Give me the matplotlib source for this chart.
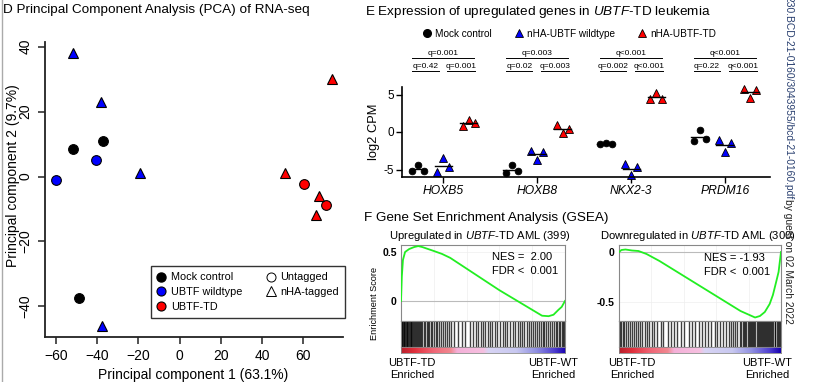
import numpy as np
import matplotlib.pyplot as plt
from matplotlib.lines import Line2D
from matplotlib.colors import LinearSegmentedColormap

plt.rcParams['font.family'] = ['Liberation Sans', 'DejaVu Sans']
plt.rcParams['mathtext.fontset'] = 'custom'
plt.rcParams['mathtext.rm'] = 'Liberation Sans'
plt.rcParams['mathtext.it'] = 'Liberation Sans:italic'

# ---- D: PCA of RNA-seq
mock_pc1 = [-52, -37, -49]
mock_pc2 = [8.5, 11, -37.3]
wt_untag_pc1 = [-40.5, -60]
wt_untag_pc2 = [5, -1.2]
wt_tag_pc1 = [-52, -38, -19, -37.6]
wt_tag_pc2 = [38, 23, 1, -46]
td_untag_pc1 = [60.5, 71.2]
td_untag_pc2 = [-2.3, -8.9]
td_tag_pc1 = [51, 74, 67.8, 66.3]
td_tag_pc2 = [1, 30, -6.1, -11.9]

# ---- E: expression (log2 CPM), three replicates per group
genes = ['HOXB5', 'HOXB8', 'NKX2-3', 'PRDM16']
mock_cpm = [[-5.25, -4.35, -5.25], [-5.5, -4.35, -5.25], [-1.6, -1.5, -1.55], [-1.25, 0.25, -0.95]]
wt_cpm = [[-5.3, -3.5, -4.7], [-2.5, -3.75, -2.6], [-4.3, -5.7, -4.6], [-1.0, -2.7, -1.4]]
td_cpm = [[0.85, 1.6, 1.15], [0.9, -0.1, 0.45], [4.35, 5.15, 4.35], [5.7, 4.6, 5.6]]
q_mock_td = ['q=0.001', 'q=0.003', 'q<0.001', 'q<0.001']
q_mock_wt = ['q=0.42', 'q=0.02', 'q=0.002', 'q=0.22']
q_wt_td = ['q=0.001', 'q=0.003', 'q<0.001', 'q<0.001']

# ---- F: GSEA running enrichment scores (fraction of ranked list, ES)
up_rank = [0, 0.005, 0.012, 0.025, 0.05, 0.08, 0.105, 0.13, 0.2, 0.25, 0.3, 0.4, 0.5,
           0.6, 0.7, 0.8, 0.86, 0.9, 0.93, 0.96, 0.98, 1.0]
up_es = [0, 0.25, 0.42, 0.50, 0.53, 0.55, 0.56, 0.55, 0.51, 0.48, 0.44, 0.33, 0.22,
         0.11, 0.01, -0.09, -0.15, -0.155, -0.14, -0.09, -0.06, 0.0]
up_hits = [0.000, 0.004, 0.008, 0.012, 0.016, 0.021, 0.025, 0.03, 0.034, 0.039, 0.044, 0.049,
           0.053, 0.058, 0.063, 0.068, 0.073, 0.078, 0.084, 0.089, 0.095, 0.101, 0.107, 0.113,
           0.122, 0.131, 0.138, 0.147, 0.156, 0.163, 0.172, 0.181, 0.19, 0.2, 0.211, 0.222,
           0.231, 0.243, 0.255, 0.266, 0.279, 0.292, 0.305, 0.322, 0.347, 0.372, 0.391, 0.418,
           0.436, 0.458, 0.471, 0.486, 0.497, 0.512, 0.528, 0.541, 0.556, 0.571, 0.584, 0.601,
           0.619, 0.633, 0.648, 0.664, 0.681, 0.697, 0.712, 0.726, 0.739, 0.752, 0.766, 0.779,
           0.791, 0.804, 0.815, 0.828, 0.84, 0.851, 0.863, 0.874, 0.886, 0.897, 0.909, 0.92,
           0.931, 0.943, 0.954, 0.962, 0.971, 0.979, 0.987, 0.995]
dn_rank = [0, 0.015, 0.04, 0.08, 0.12, 0.17, 0.25, 0.35, 0.45, 0.55, 0.65, 0.75, 0.84,
           0.87, 0.9, 0.93, 0.95, 0.97, 0.985, 1.0]
dn_es = [0, 0.02, 0.025, 0.015, 0.01, -0.02, -0.09, -0.19, -0.29, -0.39, -0.49, -0.59, -0.655,
         -0.64, -0.6, -0.52, -0.43, -0.3, -0.2, 0.0]
dn_hits = [0.005, 0.015, 0.024, 0.033, 0.045, 0.057, 0.066, 0.078, 0.09, 0.104, 0.118, 0.129,
           0.143, 0.158, 0.171, 0.186, 0.201, 0.219, 0.236, 0.258, 0.272, 0.3, 0.318, 0.342,
           0.361, 0.385, 0.402, 0.43, 0.448, 0.47, 0.493, 0.51, 0.532, 0.551, 0.568, 0.59,
           0.607, 0.625, 0.641, 0.66, 0.676, 0.69, 0.705, 0.718, 0.731, 0.744, 0.756, 0.764,
           0.772, 0.779, 0.787, 0.794, 0.801, 0.808, 0.815, 0.822, 0.829, 0.836, 0.842, 0.849,
           0.856, 0.862, 0.869, 0.875, 0.882, 0.888, 0.895, 0.901, 0.908, 0.914, 0.921, 0.927,
           0.934, 0.94, 0.947, 0.953, 0.96, 0.966, 0.973, 0.979, 0.986, 0.992, 0.998]
bar_pos = [0, 0.08, 0.2, 0.3, 0.34, 0.5, 0.53, 0.7, 0.82, 0.93, 1.0]
bar_colors = ['#b8202c', '#e0303c', '#f06878', '#f08890', '#f4b0d8', '#f6c0e0',
              '#d8d4f4', '#c8c8f0', '#9090e0', '#5040d0', '#1800b0']

BLUE = '#0000ff'
RED = '#ff0000'

W, H = 822, 382
fig = plt.figure(figsize=(W / 100, H / 100), dpi=100)


def px_box(l, t, r, b):
    return [l / W, 1 - b / H, (r - l) / W, (b - t) / H]


def ftext(x, y, s, **kw):
    return fig.text(x / W, 1 - y / H, s, **kw)


# page edge
fig.add_artist(Line2D([1.5 / W, 1.5 / W], [0, 1], color='#aaaaaa', lw=1))

# ================= D =================
ftext(3, 10, 'D Principal Component Analysis (PCA) of RNA-seq', fontsize=9.7, va='center')
ax = fig.add_axes(px_box(45, 42, 343, 337))
kw = dict(ls='none', mec='black', mew=0.8)
ax.plot(mock_pc1, mock_pc2, 'o', ms=7, mfc='black', **kw)
ax.plot(wt_untag_pc1, wt_untag_pc2, 'o', ms=7, mfc=BLUE, **kw)
ax.plot(wt_tag_pc1, wt_tag_pc2, '^', ms=7.5, mfc=BLUE, **kw)
ax.plot(td_untag_pc1, td_untag_pc2, 'o', ms=7, mfc=RED, **kw)
ax.plot(td_tag_pc1, td_tag_pc2, '^', ms=7.5, mfc=RED, **kw)
ax.set_xlim(-65.4, 79.4)
ax.set_ylim(-49.4, 41.4)
ax.spines[['top', 'right']].set_visible(False)
for s in ['left', 'bottom']:
    ax.spines[s].set_linewidth(1.3)
    ax.spines[s].set_color('#222222')
ax.set_xticks([-60, -40, -20, 0, 20, 40, 60])
ax.set_yticks([-40, -20, 0, 20, 40])
ax.set_yticklabels(['\u221240', '\u221220', '0', '20', '40'], rotation=90, va='center')
ax.tick_params(length=5, width=1.1, labelsize=10, pad=4, color='#222222')
ax.set_xlabel('Principal component 1 (63.1%)', fontsize=10)
ax.set_ylabel('Principal component 2 (9.7%)', fontsize=10)
ax.xaxis.set_label_coords(0.498, -0.105)
ax.yaxis.set_label_coords(-0.085, 0.546)
handles = [
    Line2D([], [], marker='o', ls='none', ms=6.5, mfc='black', mec='black', label='Mock control'),
    Line2D([], [], marker='o', ls='none', ms=6.5, mfc=BLUE, mec='black', mew=0.8, label='UBTF wildtype'),
    Line2D([], [], marker='o', ls='none', ms=6.5, mfc=RED, mec='black', mew=0.8, label='UBTF-TD'),
    Line2D([], [], marker='o', ls='none', ms=6.5, mfc='white', mec='black', mew=0.7, label='Untagged'),
    Line2D([], [], marker='^', ls='none', ms=6.5, mfc='white', mec='black', mew=0.7, label='nHA-tagged'),
    Line2D([], [], ls='none', label=' '),
]
leg = ax.legend(handles=handles, ncol=2, loc='lower right', bbox_to_anchor=(1.007, 0.064),
                frameon=True, fancybox=False, edgecolor='black', fontsize=7.8,
                handlelength=0.8, handletextpad=0.5, columnspacing=2.2,
                labelspacing=0.45, borderpad=0.55, borderaxespad=0)
leg.get_frame().set_linewidth(1.0)

# ================= E =================
ftext(365, 12, 'E Expression of upregulated genes in $\\mathit{UBTF}$-TD leukemia',
      fontsize=9.7, va='center')
ax2 = fig.add_axes(px_box(402, 87, 770, 177))
xpos = np.arange(len(genes))
jit = [-0.064, 0, 0.064]
groups = [(mock_cpm, -0.27, 'o', 4.8, 'black'),
          (wt_cpm, 0.0, '^', 5.3, BLUE),
          (td_cpm, 0.27, '^', 5.3, RED)]
for vals, dx, mk, ms, col in groups:
    for i in xpos:
        xs = [i + dx + j for j in jit]
        ax2.plot(xs, vals[i], mk, ms=ms, mfc=col, mec='black', mew=0.6, ls='none', clip_on=False)
        m = np.mean(vals[i])
        ax2.plot([i + dx - 0.09, i + dx + 0.09], [m, m], color='black', lw=1.0)
ax2.set_xlim(-0.44, 3.48)
ax2.set_ylim(-6, 6)
ax2.spines[['top', 'right']].set_visible(False)
for s in ['left', 'bottom']:
    ax2.spines[s].set_linewidth(1.2)
ax2.set_yticks([-5, 0, 5])
ax2.set_yticklabels(['-5', '0', '5'])
ax2.set_xticks(xpos)
ax2.set_xticklabels(genes, fontstyle='italic', fontsize=8.7)
ax2.tick_params(axis='y', length=4, width=1, labelsize=8.5, pad=2)
ax2.tick_params(axis='x', length=4, width=1, pad=2)
ax2.set_ylabel('log2 CPM', fontsize=9.3, labelpad=2)
for i in xpos:
    for x0, x1, yv, lab in [(-0.33, 0.33, 9.87, q_mock_td[i]),
                            (-0.33, -0.05, 8.13, q_mock_wt[i]),
                            (0.04, 0.34, 8.13, q_wt_td[i])]:
        ax2.plot([i + x0, i + x1], [yv, yv], color='black', lw=0.7, clip_on=False)
        ax2.text(i + (x0 + x1) / 2, yv + 0.12, lab, fontsize=6, ha='center', va='bottom')
eh = [Line2D([], [], marker='o', ls='none', ms=5.5, mfc='black', mec='black', label='Mock control'),
      Line2D([], [], marker='^', ls='none', ms=5.5, mfc=BLUE, mec='black', mew=0.6, label='nHA-UBTF wildtype'),
      Line2D([], [], marker='^', ls='none', ms=5.5, mfc=RED, mec='black', mew=0.6, label='nHA-UBTF-TD')]
ax2.legend(handles=eh, ncol=3, loc='center', bbox_to_anchor=(0.455, 1.589), frameon=False,
           fontsize=7.2, handlelength=0.8, handletextpad=0.4, columnspacing=2.3, borderaxespad=0)

# ================= F =================
ftext(364, 218, 'F Gene Set Enrichment Analysis (GSEA)', fontsize=9.7, va='center')
cmap = LinearSegmentedColormap.from_list('rank', list(zip(bar_pos, bar_colors)))
gradient = np.linspace(0, 1, 256).reshape(1, -1)


def gsea_panel(l, r, rank, es, hits, ylim, yticks, yticklabels):
    a = fig.add_axes(px_box(l, 245, r, 321))
    a.plot(rank, es, color='#22ee22', lw=1.3, zorder=3)
    a.axhline(0, color='#bbbbbb', lw=0.8)
    a.grid(True, color='#eeeeee', lw=0.5)
    a.set_xlim(0, 1)
    a.set_ylim(*ylim)
    a.set_xticks([0.2, 0.4, 0.6, 0.8])
    a.set_xticklabels([])
    a.set_yticks(yticks)
    a.set_yticklabels(yticklabels, fontweight='bold')
    a.tick_params(axis='y', length=0, labelsize=7.5, pad=3)
    a.tick_params(axis='x', length=0)
    for s in a.spines.values():
        s.set_color('#888888')
        s.set_linewidth(0.8)
    b = fig.add_axes(px_box(l, 321, r, 347))
    b.vlines(hits, 0, 1, color='black', lw=1.0, alpha=0.75)
    b.set_xlim(0, 1)
    b.set_ylim(0, 1)
    b.set_xticks([])
    b.set_yticks([])
    for s in b.spines.values():
        s.set_color('#888888')
        s.set_linewidth(0.8)
    c = fig.add_axes(px_box(l, 347, r, 353))
    c.imshow(gradient, cmap=cmap, aspect='auto', extent=[0, 1, 0, 1])
    c.set_xticks([])
    c.set_yticks([])
    for s in c.spines.values():
        s.set_color('#888888')
        s.set_linewidth(0.6)
    return a


gsea_panel(401, 565, up_rank, up_es, up_hits, (-0.204, 0.571), [0, 0.5], ['0', '0.5'])
gsea_panel(619, 781, dn_rank, dn_es, dn_hits, (-0.69, 0.07), [-0.5, 0], ['-0.5', '0'])

ftext(480, 236, 'Upregulated in $\\mathit{UBTF}$-TD AML (399)', fontsize=8.1, ha='center', va='center')
ftext(698, 236, 'Downregulated in $\\mathit{UBTF}$-TD AML (300)', fontsize=8.1, ha='center', va='center')
ftext(374, 303, 'Enrichment Score', fontsize=6.6, rotation=90, ha='center', va='center')
ftext(492, 257, 'NES =  2.00', fontsize=8, va='center')
ftext(492, 271, 'FDR <  0.001', fontsize=8, va='center')
ftext(704, 258, 'NES = -1.93', fontsize=8, va='center')
ftext(704, 272, 'FDR <  0.001', fontsize=8, va='center')
for cx, lab in [(412, 'UBTF-TD'), (553, 'UBTF-WT'), (632, 'UBTF-TD'), (767, 'UBTF-WT')]:
    ftext(cx, 363, lab, fontsize=8, ha='center', va='center')
    ftext(cx, 375, 'Enriched', fontsize=8, ha='center', va='center')

# download watermark along the right edge
ftext(788, -4, '230.BCD-21-0160/3043955/bcd-21-0160.pdf', fontsize=7.4, rotation=-90,
      ha='center', va='top', color='#2a4070')
ftext(788, 199, 'by guest on 02 March 2022', fontsize=7.4, rotation=-90,
      ha='center', va='top', color='#222222')

fig.savefig('out.png', dpi=100)
